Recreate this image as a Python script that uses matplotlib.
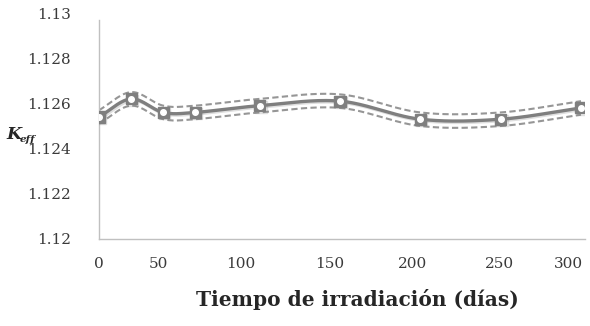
import numpy as np
import matplotlib
matplotlib.use("Agg")
import matplotlib.pyplot as plt
import matplotlib.patheffects as pe

# ---- data ----
dias = [0, 20, 40, 60, 100, 150, 200, 250, 300]
keff = [1.1254, 1.1262, 1.1256, 1.1256, 1.1259, 1.1261, 1.1253, 1.1253, 1.1258]
keff_sup = [1.1257, 1.1265, 1.1259, 1.1259, 1.1262, 1.1264, 1.1256, 1.1256, 1.1261]
keff_inf = [1.1251, 1.1259, 1.1253, 1.1253, 1.1256, 1.1258, 1.1250, 1.1250, 1.1255]
xtick_labels = ["0", "50", "100", "150", "200", "250", "300"]
xtick_pos = [0, 36.7, 88.4, 143.7, 195.4, 249.5, 292.5]
ytick_vals = [1.12, 1.122, 1.124, 1.126, 1.128, 1.13]
ytick_labels = ["1.12", "1.122", "1.124", "1.126", "1.128", "1.13"]


def smooth(x, y, n=30):
    """Catmull-Rom curve through the points (like Excel's smoothed line)."""
    x = np.asarray(x, float)
    y = np.asarray(y, float)
    px = np.concatenate([[2 * x[0] - x[1]], x, [2 * x[-1] - x[-2]]])
    py = np.concatenate([[2 * y[0] - y[1]], y, [2 * y[-1] - y[-2]]])
    ox, oy = [], []
    t = np.linspace(0, 1, n, endpoint=False)
    for i in range(1, len(px) - 2):
        for P, out in ((px, ox), (py, oy)):
            p0, p1, p2, p3 = P[i - 1], P[i], P[i + 1], P[i + 2]
            out.extend(0.5 * ((2 * p1) + (-p0 + p2) * t
                              + (2 * p0 - 5 * p1 + 4 * p2 - p3) * t ** 2
                              + (-p0 + 3 * p1 - 3 * p2 + p3) * t ** 3))
    ox.append(x[-1])
    oy.append(y[-1])
    return np.array(ox), np.array(oy)


plt.rcParams['font.family'] = ['DejaVu Serif']

fig = plt.figure(figsize=(5.9, 3.26), dpi=100)
ax = fig.add_axes([99 / 590, 1 - 239 / 326, (585 - 99) / 590, (239 - 13) / 326])

shadow = [pe.SimpleLineShadow(offset=(1, -1), alpha=0.25, shadow_color='#808080'), pe.Normal()]

for ys in (keff_sup, keff_inf):
    sx, sy = smooth(dias, ys)
    ax.plot(sx, sy, color='#969696', lw=1.5, ls=(0, (3.0, 1.6)), zorder=2)

sx, sy = smooth(dias, keff)
ax.plot(sx, sy, color='#7f7f7f', lw=2.4, zorder=3, path_effects=shadow)
ax.plot(dias, keff, ls='none', marker='s', ms=8.0, mfc='#7f7f7f', mec='#7f7f7f',
        zorder=4, path_effects=shadow)
ax.plot(dias, keff, ls='none', marker='o', ms=4.0, mfc='white', mec='white', zorder=5)

ax.set_xlim(0, 302.5)
ax.set_ylim(1.12, 1.13)
ax.set_xticks(xtick_pos)
ax.set_xticklabels(xtick_labels)
ax.set_yticks(ytick_vals)
ax.set_yticklabels(ytick_labels)
ax.tick_params(length=0, labelsize=11, colors='#3a3a3a', pad=13)
ax.tick_params(axis='y', pad=20)

for s in ('top', 'right'):
    ax.spines[s].set_visible(False)
for s in ('left', 'bottom'):
    ax.spines[s].set_color('#c0c0c0')
    ax.spines[s].set_linewidth(1.0)
ax.spines['left'].set_bounds(1.12, 1.1297)

fig.text(357 / 590, 1 - 300 / 326, 'Tiempo de irradiación (días)', ha='center', va='center',
         fontsize=14.5, fontweight='bold', color='#262626')
fig.text(6 / 590, 1 - 134 / 326, 'K', ha='left', va='center',
         fontsize=12.5, fontweight='bold', fontstyle='italic', color='#262626')
fig.text(20 / 590, 1 - 140 / 326, 'eff', ha='left', va='center',
         fontsize=7.5, fontweight='bold', fontstyle='italic', color='#262626')

fig.savefig('out.png', dpi=100)
